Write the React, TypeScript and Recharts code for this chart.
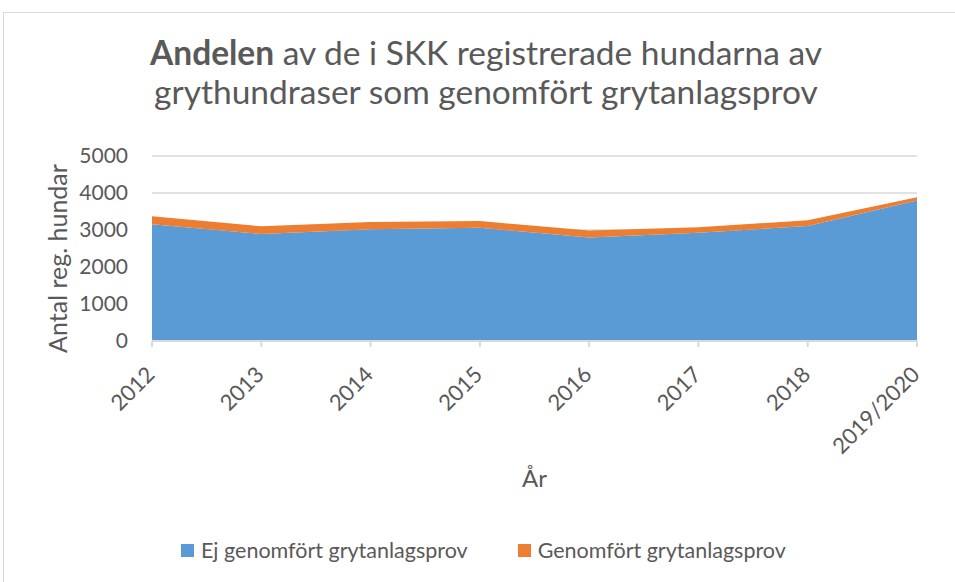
import { AreaChart, Area, XAxis, YAxis, CartesianGrid } from 'recharts';

const years = ['2012', '2013', '2014', '2015', '2016', '2017', '2018', '2019/2020'];
const ejGenomfort = [3155, 2890, 3020, 3060, 2795, 2925, 3110, 3800];
const genomfort = [215, 210, 195, 180, 190, 150, 155, 85];
const yTicks = [0, 1000, 2000, 3000, 4000, 5000];

const seriesNames = ['Ej genomfört grytanlagsprov', 'Genomfört grytanlagsprov'];
const colors = ['#5B9BD5', '#ED7D31'];

const data = years.map((year, i) => ({
  year,
  ej: ejGenomfort[i],
  gen: genomfort[i],
}));

const font = "Lato, 'Open Sans', sans-serif";
const textColor = '#595959';

function XTick({ x, y, payload }: any) {
  const ax = x + 4;
  const ay = y + 27;
  return (
    <text
      x={ax}
      y={ay}
      transform={`rotate(-45, ${ax}, ${ay})`}
      textAnchor="end"
      fontSize={22}
      fill={textColor}
      fontFamily={font}
    >
      {payload.value}
    </text>
  );
}

export default function App() {
  return (
    <div style={{ position: 'absolute', left: 0, top: 0, width: 955, height: 582, overflow: 'hidden', background: '#fff', fontFamily: font }}>
      <div style={{ position: 'absolute', left: 3, top: 12, width: 970, height: 600, border: '1px solid #d9d9d9', boxSizing: 'border-box' }} />
      <div style={{ position: 'absolute', left: 0, top: 33, width: 972, textAlign: 'center', fontSize: 33.5, lineHeight: '39px', color: textColor }}>
        <b>Andelen</b> av de i SKK registrerade hundarna av
        <br />
        grythundraser som genomfört grytanlagsprov
      </div>
      <div style={{ position: 'absolute', left: 0, top: 0 }}>
        <AreaChart width={955} height={582} data={data} margin={{ top: 156, right: 38, left: 0, bottom: 0 }}>
          <CartesianGrid vertical={false} stroke="#d9d9d9" strokeWidth={1.5} />
          <XAxis
            dataKey="year"
            tick={<XTick />}
            interval={0}
            height={241}
            stroke="#d9d9d9"
            strokeWidth={2}
            tickSize={6}
            label={{ value: 'År', position: 'insideTop', dy: 124, fontSize: 24, fill: textColor, fontFamily: font }}
          />
          <YAxis
            domain={[0, 5000]}
            ticks={yTicks}
            width={152}
            axisLine={false}
            tickLine={false}
            tickSize={0}
            tickMargin={24}
            tick={{ fontSize: 21, fill: textColor, fontFamily: font }}
            label={{ value: 'Antal reg. hundar', angle: -90, position: 'insideLeft', dx: 53, dy: 10, fontSize: 25, fill: textColor, fontFamily: font, style: { textAnchor: 'middle' } }}
          />
          <Area type="linear" dataKey="ej" stackId="1" stroke="none" fill={colors[0]} fillOpacity={1} isAnimationActive={false} />
          <Area type="linear" dataKey="gen" stackId="1" stroke="none" fill={colors[1]} fillOpacity={1} isAnimationActive={false} />
        </AreaChart>
      </div>
      <div style={{ position: 'absolute', top: 536, left: 181, display: 'flex', gap: 50, fontSize: 21.5, lineHeight: '28px', color: textColor }}>
        {seriesNames.map((name, i) => (
          <div key={name} style={{ display: 'flex', alignItems: 'center' }}>
            <span style={{ display: 'inline-block', width: 13, height: 13, background: colors[i], marginRight: 7 }} />
            {name}
          </div>
        ))}
      </div>
    </div>
  );
}
